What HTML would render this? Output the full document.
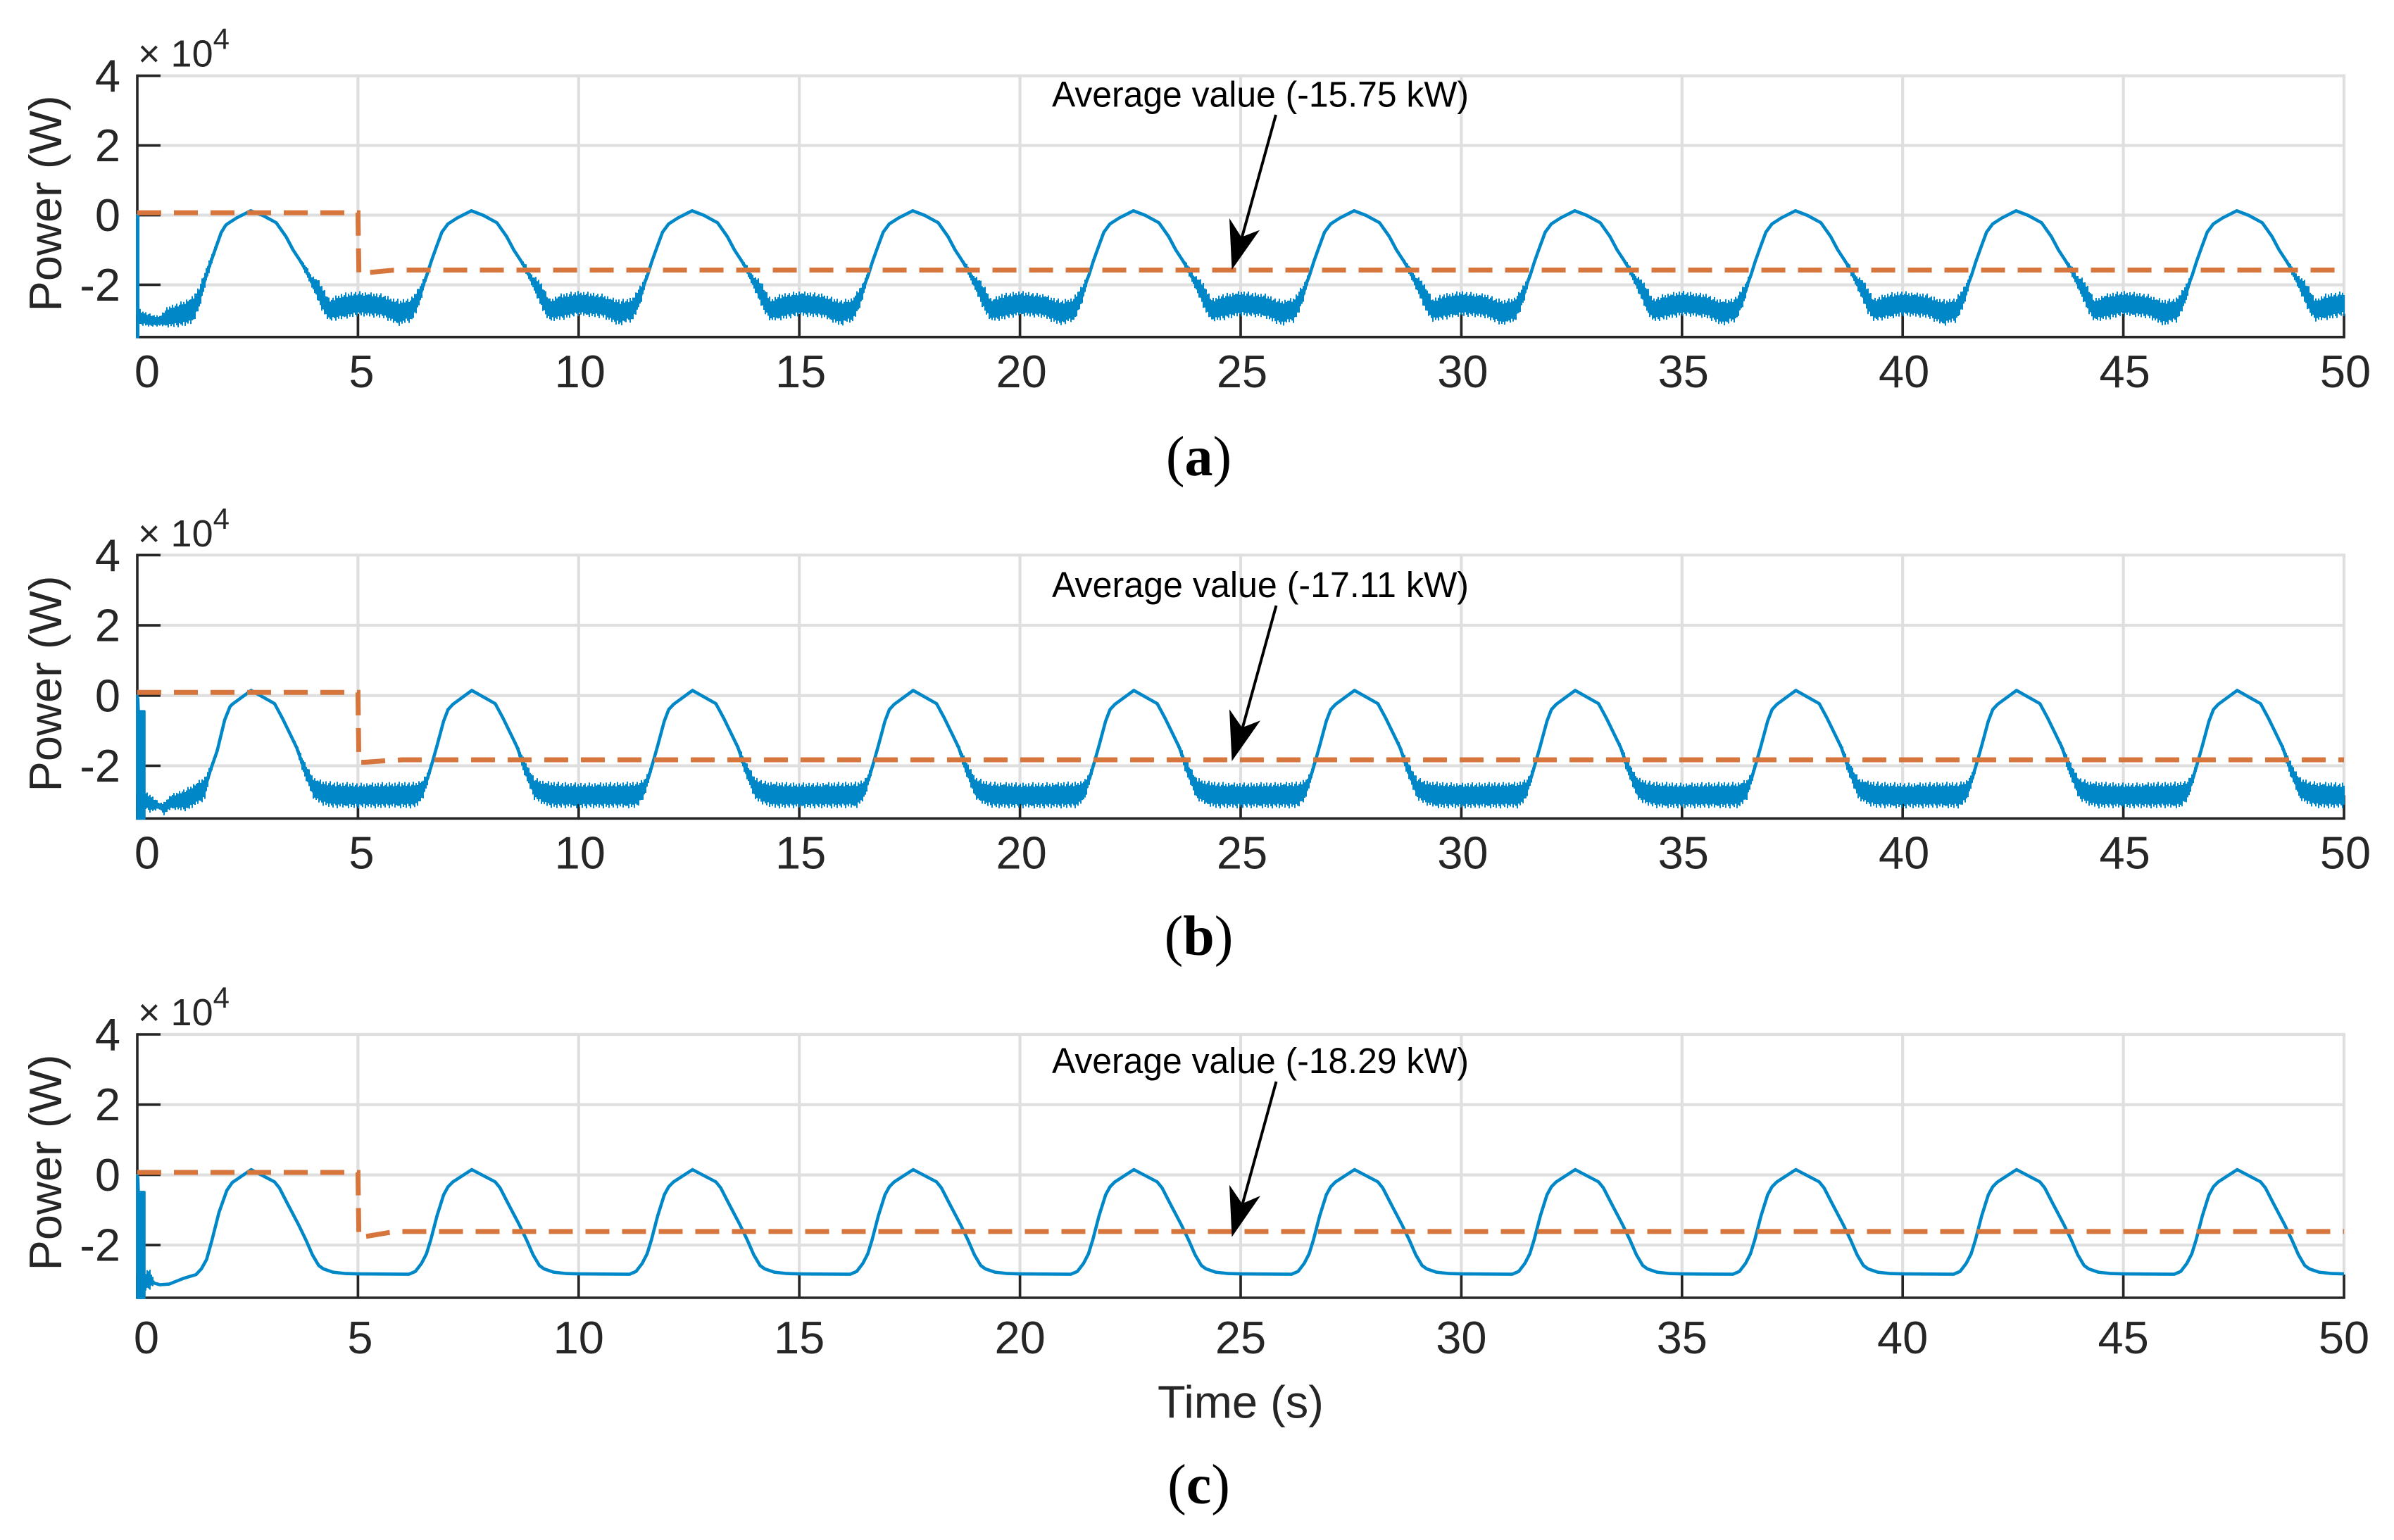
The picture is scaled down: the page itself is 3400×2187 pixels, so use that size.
<!DOCTYPE html>
<html lang="en">
<head>
<meta charset="utf-8">
<title>Power versus time for three cases</title>
<style>
html,body{margin:0;padding:0;background:#fff;}
svg{display:block;}
.tick{font-family:"Liberation Sans",Arial,sans-serif;font-size:65px;fill:#262626;}
.exp{font-family:"Liberation Sans",Arial,sans-serif;fill:#262626;}
.note{font-family:"Liberation Sans",Arial,sans-serif;font-size:51px;fill:#000;}
.cap{font-family:"Liberation Serif",serif;font-size:80px;fill:#000;}
.cap .b{font-weight:bold;}
</style>
</head>
<body>
<svg id="figure" xmlns="http://www.w3.org/2000/svg" width="3400" height="2187" viewBox="0 0 3400 2187">
  <rect width="3400" height="2187" fill="#fff"/>

  <g>
    <g id="plot-a"></g>
    <text class="tick" transform="translate(87 289) rotate(-90)" text-anchor="middle">Power (W)</text>
    <text class="exp" x="196" y="94.5" font-size="54">× 10<tspan dy="-25" font-size="42">4</tspan></text>
    <text class="note" x="1494" y="151.5" textLength="592" lengthAdjust="spacingAndGlyphs">Average value (-15.75 kW)</text>
    <g>
      <line x1="1812" y1="163" x2="1763" y2="340" stroke="#000" stroke-width="4"/>
      <polygon points="1749.5,383 1746,310 1763,336.7 1789,326.7" fill="#000"/>
    </g>
    <text class="cap" x="1702.5" y="675" text-anchor="middle">(<tspan class="b">a</tspan>)</text>
  </g>

  <g>
    <g id="plot-b"></g>
    <text class="tick" transform="translate(87 971) rotate(-90)" text-anchor="middle">Power (W)</text>
    <text class="exp" x="196" y="776" font-size="54">× 10<tspan dy="-25" font-size="42">4</tspan></text>
    <text class="note" x="1494" y="848" textLength="592" lengthAdjust="spacingAndGlyphs">Average value (-17.11 kW)</text>
    <g>
      <line x1="1812.5" y1="860" x2="1764" y2="1036" stroke="#000" stroke-width="4"/>
      <polygon points="1749.5,1081 1746,1007.3 1764,1033.3 1790,1023.3" fill="#000"/>
    </g>
    <text class="cap" x="1702.5" y="1356" text-anchor="middle">(<tspan class="b">b</tspan>)</text>
  </g>

  <g>
    <g id="plot-c"></g>
    <text class="tick" transform="translate(87 1651) rotate(-90)" text-anchor="middle">Power (W)</text>
    <text class="exp" x="196" y="1456" font-size="54">× 10<tspan dy="-25" font-size="42">4</tspan></text>
    <text class="note" x="1494" y="1524" textLength="592" lengthAdjust="spacingAndGlyphs">Average value (-18.29 kW)</text>
    <g>
      <line x1="1812.5" y1="1536" x2="1764" y2="1712" stroke="#000" stroke-width="4"/>
      <polygon points="1749.5,1756.7 1746,1682.7 1764,1709.3 1790,1698.3" fill="#000"/>
    </g>
    <text class="tick" x="1762" y="2013.5" text-anchor="middle">Time (s)</text>
    <text class="cap" x="1702.5" y="2135" text-anchor="middle">(<tspan class="b">c</tspan>)</text>
  </g>
</svg>

<script>
// Axis ticks
const xTicks = [0,5,10,15,20,25,30,35,40,45,50];
const xTickLabels = ["0","5","10","15","20","25","30","35","40","45","50"];
const yTicks = [4,2,0,-2];
const yTickLabels = ["4","2","0","-2"];
const xLimits = [0,50];
const yLimits = [-3.5,4];

// Start time of each repeating wave cycle (s)
const cycleStarts = [0,5,10,15,20,25,30,35,40,45];

// Panel (a): power, units of 1e4 W. Noise envelope.
const spikeTimesA = [0,0.02];
const spikeTopsA = [0,0];
const startupTimesA = [0.02,0.1,0.3,0.5,0.7,1.0,1.25,1.4,1.6,1.9,2.0];
const startupUpperA = [-2.66,-2.75,-2.85,-2.9,-2.63,-2.5,-2.35,-2.07,-1.4,-0.45,-0.27];
const startupLowerA = [-3.2,-3.15,-3.2,-3.18,-3.2,-3.18,-3.1,-2.7,-1.76,-0.55,-0.32];
const cycleOffsetsA = [0,0.55,0.76,0.95,1.08,1.21,1.32,1.43,1.5,1.56,1.66,1.77,1.9,2.04,2.25,2.57,2.84,3.15,3.37,3.53,3.69,3.82,3.95,4.09,4.22,4.35,4.59,5];
const cycleUpperA = [-2.2,-2.28,-2.39,-2.45,-2.42,-2.39,-2.18,-1.98,-1.78,-1.64,-1.3,-0.92,-0.47,-0.23,-0.07,0.13,0.0,-0.21,-0.6,-0.98,-1.25,-1.44,-1.74,-1.84,-2.11,-2.42,-2.28,-2.2];
const cycleLowerA = [-2.87,-2.93,-3.06,-3.16,-3.06,-3.06,-2.79,-2.45,-2.08,-1.81,-1.36,-0.96,-0.51,-0.27,-0.09,0.12,-0.01,-0.23,-0.63,-1.02,-1.37,-1.71,-2.05,-2.45,-2.82,-3.03,-2.99,-2.87];
const averageTimesA = [0,5,5.02,5.3,5.8,6.2,50];
const averageValuesA = [0.07,0.07,-1.68,-1.64,-1.58,-1.575,-1.575];

// Panel (b)
const spikeTimesB = [0,0.02,0.03,0.16];
const spikeTopsB = [0,-0.1,-0.45,-0.45];
const startupTimesB = [0.16,0.3,0.5,0.6,0.76,1.12,1.53,1.65,1.81,1.98,2.1];
const startupUpperB = [-2.74,-2.83,-3.05,-3.05,-2.83,-2.65,-2.33,-2.02,-1.48,-0.67,-0.3];
const startupLowerB = [-3.2,-3.32,-3.23,-3.4,-3.23,-3.27,-2.96,-2.29,-1.66,-0.72,-0.34];
const cycleOffsetsB = [0,1.3,1.47,1.58,1.69,1.79,1.94,2.04,2.15,2.58,3.11,3.29,3.47,3.61,3.75,3.86,4.0,4.22,4.43,5];
const cycleUpperB = [-2.51,-2.48,-2.41,-2.18,-1.78,-1.38,-0.71,-0.38,-0.24,0.15,-0.22,-0.64,-1.08,-1.38,-1.78,-2.05,-2.35,-2.45,-2.48,-2.51];
const cycleLowerB = [-3.18,-3.18,-2.95,-2.51,-1.98,-1.48,-0.75,-0.42,-0.26,0.14,-0.24,-0.66,-1.15,-1.58,-2.18,-2.51,-2.95,-3.11,-3.18,-3.18];
const averageTimesB = [0,5,5.02,5.15,5.6,6,50];
const averageValuesB = [0.09,0.09,-1.9,-1.9,-1.86,-1.83,-1.83];

// Panel (c): noise only near t = 0
const spikeTimesC = [0,0.02,0.03,0.16];
const spikeTopsC = [0,-0.1,-0.49,-0.49];
const startupTimesC = [0.16,0.27,0.39,0.51,0.72,1.04,1.33,1.45,1.57,1.69,1.85,2.03,2.15];
const startupUpperC = [-2.86,-2.64,-3.04,-3.13,-3.11,-2.95,-2.84,-2.68,-2.41,-1.87,-1.07,-0.44,-0.22];
const startupLowerC = [-3.3,-3.26,-3.13,-3.13,-3.11,-2.95,-2.84,-2.68,-2.41,-1.87,-1.07,-0.44,-0.22];
const cycleOffsetsC = [0,1.15,1.3,1.44,1.55,1.65,1.79,1.94,2.04,2.15,2.58,3.11,3.22,3.4,3.65,3.82,3.97,4.11,4.22,4.43,4.72,5];
const cycleValuesC = [-2.82,-2.83,-2.75,-2.52,-2.25,-1.85,-1.17,-0.57,-0.34,-0.2,0.15,-0.2,-0.37,-0.81,-1.41,-1.85,-2.28,-2.58,-2.68,-2.77,-2.81,-2.82];
const averageTimesC = [0,5,5.02,5.2,5.72,6,50];
const averageValuesC = [0.07,0.07,-1.78,-1.75,-1.64,-1.612,-1.612];

// Relative reach of individual noise hairs, estimated by eye from the crops
const hairReach = [0.88,1.08,0.74,0.98,0.8,1.05,0.72,0.92,1.1,0.76,0.86,1.0,0.72,1.08,0.82,0.95,0.74,1.03,0.78,0.9,1.1,0.72,0.97,0.8,1.06,0.75,0.88,1.02,0.72,0.84,1.08,0.78,0.94,0.72,1.02,0.82,0.9];

const NS = "http://www.w3.org/2000/svg";
const BLUE = "#0087c7", ORANGE = "#d6753c", GRID = "#dfdfdf", INK = "#262626";
const LEFT = 195, RIGHT = 3329;

function make(parent, tag, attrs) {
  const node = document.createElementNS(NS, tag);
  for (const k in attrs) node.setAttribute(k, attrs[k]);
  parent.appendChild(node);
  return node;
}

function buildEnvelope(startT, startU, startL, offs, up, lo) {
  const pts = startT.map(function (t, i) { return [t, startU[i], startL[i]]; });
  const startupEnd = startT[startT.length - 1];
  cycleStarts.forEach(function (s) {
    offs.forEach(function (o, i) {
      const t = s + o;
      if (t > startupEnd && t > pts[pts.length - 1][0]) pts.push([t, up[i], lo[i]]);
    });
  });
  return pts;
}

function drawPanel(cfg) {
  const root = document.getElementById(cfg.id);
  const X = function (t) { return LEFT + (t - xLimits[0]) * (RIGHT - LEFT) / (xLimits[1] - xLimits[0]); };
  const Y = function (v) { return cfg.top + (yLimits[1] - v) * (cfg.bottom - cfg.top) / (yLimits[1] - yLimits[0]); };

  // Grid
  xTicks.forEach(function (t) {
    if (t === xLimits[0]) return;
    const g = make(root, "line", {x1: X(t), x2: X(t), y1: cfg.top, y2: cfg.bottom, stroke: GRID, "stroke-width": 4.2});
    
    
  });
  yTicks.forEach(function (v) {
    const g = make(root, "line", {x1: LEFT, x2: RIGHT + 2, y1: Y(v), y2: Y(v), stroke: GRID, "stroke-width": 4.2});
    
    
  });

  // Axes and ticks
  const axes = make(root, "path", {
    d: "M" + LEFT + " " + (cfg.top - 1.8) + "V" + cfg.bottom + "H" + (RIGHT + 1.8),
    fill: "none", stroke: INK, "stroke-width": 3.6
  });
  
  

  xTicks.forEach(function (t, i) {
    const tk = make(root, "line", {x1: X(t), x2: X(t), y1: cfg.bottom, y2: cfg.bottom - 33, stroke: INK, "stroke-width": 3.6});
    
    
    const nudge = t === 0 ? cfg.nudge0 : (t === 5 ? cfg.nudge5 : cfg.nudge);
    const lb = make(root, "text", {"class": "tick", x: X(t) + nudge, y: cfg.labelBase, "text-anchor": "middle"});
    lb.textContent = xTickLabels[i];
    
    
  });
  yTicks.forEach(function (v, i) {
    const tk = make(root, "line", {x1: LEFT, x2: LEFT + 33, y1: Y(v), y2: Y(v), stroke: INK, "stroke-width": 3.6});
    
    
    const lb = make(root, "text", {"class": "tick", x: 171, y: Y(v) + 22.5, "text-anchor": "end"});
    lb.textContent = yTickLabels[i];
    
    
  });

  // Power series
  const series = make(root, "g", {});
  
  

  const env = cfg.envelope;

  // Noise hairs between the envelope curves
  let hairPath = "";
  let seg = 0, n = 0;
  for (let px = LEFT; px <= RIGHT; px += 2) {
    const t = (px - LEFT) * (xLimits[1] - xLimits[0]) / (RIGHT - LEFT);
    while (seg < env.length - 2 && env[seg + 1][0] < t) seg++;
    const p = env[seg], q = env[seg + 1];
    if (t < p[0]) continue;
    const f = Math.min(1, (t - p[0]) / Math.max(1e-6, q[0] - p[0]));
    const yU = Y(p[1] + (q[1] - p[1]) * f);
    const yL = Y(p[2] + (q[2] - p[2]) * f);
    const half = (yL - yU) / 2;
    if (half < 2) continue;
    const mid = (yU + yL) / 2;
    const a = hairReach[n % hairReach.length];
    const b = hairReach[(n + 17) % hairReach.length];
    hairPath += "M" + px + " " + (mid - half * a).toFixed(1) + "V" + (mid + half * b).toFixed(1);
    n++;
  }
  if (hairPath) {
    const hairs = make(series, "path", {d: hairPath, fill: "none", stroke: BLUE, "stroke-width": 2});
    
    
  }

  // Solid core of the noise band
  const top = [], bot = [];
  env.forEach(function (p) {
    const yU = Y(p[1]), yL = Y(p[2]), mid = (yU + yL) / 2, half = (yL - yU) / 2;
    top.push(X(p[0]).toFixed(1) + "," + (mid - half * 0.7).toFixed(1));
    bot.unshift(X(p[0]).toFixed(1) + "," + (mid + half * 0.7).toFixed(1));
  });
  const core = make(series, "polygon", {points: top.concat(bot).join(" "), fill: BLUE});
  
  

  // Mean line of the power signal
  const meanPts = env.map(function (p) { return X(p[0]).toFixed(1) + "," + Y((p[1] + p[2]) / 2).toFixed(1); }).join(" ");
  const mean = make(series, "polyline", {points: meanPts, fill: "none", stroke: BLUE, "stroke-width": 4.6, "stroke-linejoin": "round"});
  
  

  // Start-up spike at t = 0
  const spikeUp = cfg.spikeT.map(function (t, i) { return X(t).toFixed(1) + "," + Y(cfg.spikeTop[i]).toFixed(1); });
  const lastT = cfg.spikeT[cfg.spikeT.length - 1];
  const spikePts = spikeUp.concat([X(lastT).toFixed(1) + "," + Y(yLimits[0]).toFixed(1), X(cfg.spikeT[0]).toFixed(1) + "," + Y(yLimits[0]).toFixed(1)]).join(" ");
  const spike = make(series, "polygon", {points: spikePts, fill: BLUE, stroke: BLUE, "stroke-width": 3.6, "stroke-linejoin": "round"});
  
  

  // Average power, dashed
  const avgPts = cfg.avgT.map(function (t, i) { return X(t).toFixed(1) + "," + Y(cfg.avgV[i]).toFixed(1); }).join(" ");
  const avg = make(root, "polyline", {points: avgPts, fill: "none", stroke: ORANGE, "stroke-width": 7, "stroke-dasharray": "34 18"});
  
  
}

drawPanel({
  id: "plot-a", top: 107.6, bottom: 478.7, labelBase: 550, nudge0: 14, nudge5: 5, nudge: 2,
  envelope: buildEnvelope(startupTimesA, startupUpperA, startupLowerA, cycleOffsetsA, cycleUpperA, cycleLowerA),
  spikeT: spikeTimesA, spikeTop: spikeTopsA, avgT: averageTimesA, avgV: averageValuesA
});
drawPanel({
  id: "plot-b", top: 788.3, bottom: 1162.3, labelBase: 1233.5, nudge0: 14, nudge5: 5, nudge: 2,
  envelope: buildEnvelope(startupTimesB, startupUpperB, startupLowerB, cycleOffsetsB, cycleUpperB, cycleLowerB),
  spikeT: spikeTimesB, spikeTop: spikeTopsB, avgT: averageTimesB, avgV: averageValuesB
});
drawPanel({
  id: "plot-c", top: 1469, bottom: 1843, labelBase: 1922, nudge0: 13, nudge5: 3, nudge: 0,
  envelope: buildEnvelope(startupTimesC, startupUpperC, startupLowerC, cycleOffsetsC, cycleValuesC, cycleValuesC),
  spikeT: spikeTimesC, spikeTop: spikeTopsC, avgT: averageTimesC, avgV: averageValuesC
});
</script>
</body>
</html>
